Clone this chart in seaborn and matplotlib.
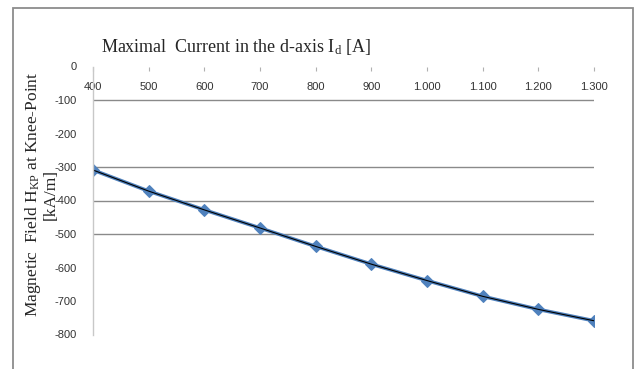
import matplotlib
matplotlib.use("Agg")
import matplotlib.pyplot as plt
from matplotlib.patches import Rectangle
import seaborn as sns
import pandas as pd

# max current in d-axis [A] and knee-point field [kA/m]
current = [400, 500, 600, 700, 800, 900, 1000, 1100, 1200, 1300]
h_kp = [-309, -372, -428, -482, -537, -590, -639, -686, -725, -759]
x_labels = ["400", "500", "600", "700", "800", "900", "1.000", "1.100", "1.200", "1.300"]
y_ticks = [0, -100, -200, -300, -400, -500, -600, -700, -800]
grid_on = [-100, -300, -400, -500]

df = pd.DataFrame({"I": current, "H": h_kp})

sns.set_style("white")
plt.rcParams["font.family"] = ["Liberation Sans", "DejaVu Sans"]

fig = plt.figure(figsize=(6.38, 3.69), dpi=100)
fig.patches.append(Rectangle((13 / 638, -0.05), 620 / 638, 1.05 - 8 / 369,
                             transform=fig.transFigure, fill=False,
                             edgecolor="#8c8c8c", linewidth=1.3))
ax = fig.add_axes([93 / 638, 1 - 334.5 / 369, 501 / 638, 268 / 369])

sns.lineplot(data=df, x="I", y="H", ax=ax, color="#4f81bd", linewidth=2.6,
             marker="D", markersize=6.5, markeredgecolor="#4f81bd")
sns.lineplot(data=df, x="I", y="H", ax=ax, color="black", linewidth=0.8)

ax.set_xlim(400, 1300)
ax.set_ylim(-800, 0)
ax.set_xticks(current)
ax.set_xticklabels(x_labels)
ax.set_yticks(y_ticks)
ax.set_yticklabels([str(v) for v in y_ticks])
ax.set_xlabel("")
ax.set_ylabel("")

for v in grid_on:
    ax.axhline(v, color="#8a8a8a", linewidth=1.0, zorder=0)

for s in ["top", "right", "bottom"]:
    ax.spines[s].set_visible(False)
ax.spines["left"].set_color("#c8c8c8")
ax.spines["left"].set_linewidth(1.0)

ax.tick_params(axis="x", bottom=False, top=True, labelbottom=False, labeltop=True,
               direction="in", length=3, color="#b0b0b0", pad=-18,
               labelsize=8, labelcolor="#333333")
ax.tick_params(axis="y", left=False, labelsize=8, labelcolor="#333333", pad=8)

serif = ["Liberation Serif", "DejaVu Serif"]
fig.text(236 / 638, 1 - 47 / 369, r"Maximal  Current in the d-axis $\mathregular{I_d}$ [A]",
         ha="center", va="center", fontsize=13, family=serif)
fig.text(41 / 638, 1 - 194 / 369,
         "Magnetic  Field $\\mathregular{H_{KP}}$ at Knee-Point\n[kA/m]",
         ha="center", va="center", rotation=90, fontsize=12.5, family=serif,
         linespacing=1.0)

fig.savefig("out.png", dpi=100, facecolor="white")
